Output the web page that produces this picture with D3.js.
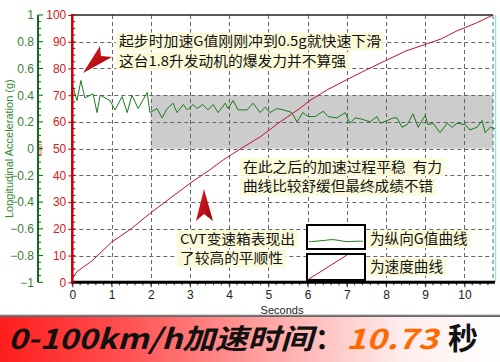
<!DOCTYPE html>
<html><head><meta charset="utf-8">
<script src="https://cdn.jsdelivr.net/npm/d3@7"></script>
<style>
html,body{margin:0;padding:0;background:#fff;}
svg{display:block;}
text{font-family:"Noto Sans CJK SC","Noto Sans",sans-serif;}
.ax{font-family:"Liberation Sans",Arial,sans-serif;}
</style></head>
<body>
<svg id="c" width="500" height="362"></svg>
<script>
// ---- data ----
const speedTime = [0,0.12,0.5,1,1.5,2,2.5,3,3.5,3.85,4.3,4.8,5.3,5.8,6.06,6.5,7,7.5,8,8.5,9,9.4,9.8,10.3,10.73];
const speedValue = [1.5,4,8,15,20,26,31.5,37,42,45.8,50,54.5,60,65,68,72,75.8,79.5,83,86.5,89,91,94,97,100];
const accTime = [0.02,0.12,0.22,0.32,0.53,0.63,0.71,0.96,1.09,1.27,1.40,1.52,1.68,1.91,1.98,2.16,2.29,2.42,2.57,2.67,2.83,2.93,3.08,3.18,3.33,3.46,3.59,3.72,3.90,3.97,4.10,4.23,4.46,4.61,4.79,4.92,5.04,5.22,5.38,5.60,5.73,5.88,6.01,6.19,6.40,6.52,6.75,6.96,7.08,7.21,7.39,7.59,7.77,7.85,8.03,8.18,8.28,8.41,8.54,8.69,8.82,9.00,9.07,9.20,9.38,9.56,9.69,9.81,10.02,10.14,10.32,10.45,10.53,10.66,10.78];
const accValue = [0.46,0.36,0.51,0.38,0.41,0.27,0.40,0.36,0.29,0.39,0.27,0.40,0.30,0.42,0.27,0.30,0.23,0.30,0.34,0.27,0.33,0.29,0.33,0.30,0.33,0.29,0.33,0.27,0.34,0.30,0.36,0.29,0.29,0.34,0.27,0.31,0.27,0.30,0.29,0.27,0.20,0.27,0.24,0.24,0.28,0.24,0.23,0.27,0.19,0.23,0.22,0.20,0.24,0.19,0.21,0.23,0.23,0.16,0.18,0.26,0.16,0.25,0.18,0.19,0.12,0.19,0.16,0.19,0.18,0.14,0.16,0.21,0.12,0.16,0.15];
const xTicks = [0,1,2,3,4,5,6,7,8,9,10];
const speedTicks = [0,10,20,30,40,50,60,70,80,90,100];
const accTicks = [-1,-0.8,-0.6,-0.4,-0.2,0,0.2,0.4,0.6,0.8,1];
const bandRange = {t0:2, v0:50, v1:70};
const legendWave = [0.30,0.33,0.35,0.41,0.35,0.29,0.33,0.32];
const legendRed = [0,1];
const noteTop = ["起步时加速G值刚刚冲到0.5g就快速下滑","这台1.8升发动机的爆发力并不算强"];
const noteMid = ["在此之后的加速过程平稳  有力","曲线比较舒缓但最终成绩不错"];
const noteCvt = ["CVT变速箱表现出","了较高的平顺性"];
const legendLabels = ["为纵向G值曲线","为速度曲线"];
const bannerMain = "0-100km/h加速时间";
const bannerColon = "：";
const bannerTime = "10.73";
const bannerUnit = "秒";

const svg = d3.select("#c");
const x = d3.scaleLinear().domain([0,10.78]).range([72.3,495]);
const yS = d3.scaleLinear().domain([0,100]).range([282.3,15]);
const yA = d3.scaleLinear().domain([-1,1]).range([282.3,15]);
const x0 = x(0), x1 = 493, yTop = 15, yBot = 282.3;

const defs = svg.append("defs");
const bg = defs.append("linearGradient").attr("id","ban").attr("x1",0).attr("x2",1).attr("y1",0).attr("y2",0);
bg.append("stop").attr("offset","0%").attr("stop-color","#ff1e1e");
bg.append("stop").attr("offset","25%").attr("stop-color","#ff5050");
bg.append("stop").attr("offset","55%").attr("stop-color","#ffa8a8");
bg.append("stop").attr("offset","80%").attr("stop-color","#ffecec");
bg.append("stop").attr("offset","100%").attr("stop-color","#ffffff");
const sh = defs.append("linearGradient").attr("id","sh").attr("x1",0).attr("x2",0).attr("y1",0).attr("y2",1);
sh.append("stop").attr("offset","0%").attr("stop-color","#ffffff");
sh.append("stop").attr("offset","50%").attr("stop-color","#555");
sh.append("stop").attr("offset","100%").attr("stop-color","#999");
const ag = defs.append("linearGradient").attr("id","arr").attr("x1",0).attr("x2",1).attr("y1",0).attr("y2",1);
ag.append("stop").attr("offset","0%").attr("stop-color","#e02020");
ag.append("stop").attr("offset","100%").attr("stop-color","#a00010");

// band
svg.append("rect").attr("x",x(bandRange.t0)).attr("y",yS(bandRange.v1))
  .attr("width",x1-x(bandRange.t0)).attr("height",yS(bandRange.v0)-yS(bandRange.v1)).attr("fill","#cccccc");

// grid
const grid = svg.append("g").attr("stroke","#666").attr("stroke-width",1).attr("stroke-dasharray","4,3");
xTicks.filter(d=>d>0).forEach(d=>grid.append("line").attr("x1",Math.round(x(d))+0.5).attr("x2",Math.round(x(d))+0.5).attr("y1",yTop).attr("y2",yBot));
speedTicks.filter(d=>d>0&&d<100).forEach(d=>grid.append("line").attr("x1",x0).attr("x2",x1).attr("y1",Math.round(yS(d))+0.5).attr("y2",Math.round(yS(d))+0.5));
grid.append("line").attr("x1",x1).attr("x2",x1).attr("y1",yTop).attr("y2",yBot);
svg.append("line").attr("x1",x0).attr("x2",x1).attr("y1",yTop).attr("y2",yTop).attr("stroke","#222").attr("stroke-width",1.5);
svg.append("line").attr("x1",495.5).attr("x2",495.5).attr("y1",yTop).attr("y2",yBot).attr("stroke","#8fe3f2").attr("stroke-width",1.5);

// lines
svg.append("path").datum(speedTime.map((t,i)=>[t,speedValue[i]]))
  .attr("d",d3.line().x(d=>x(d[0])).y(d=>yS(d[1])))
  .attr("fill","none").attr("stroke","#c4122e").attr("stroke-width",1);
svg.append("path").datum(accTime.map((t,i)=>[t,accValue[i]]))
  .attr("d",d3.line().x(d=>x(d[0])).y(d=>yA(d[1])))
  .attr("fill","none").attr("stroke","#1a7a1a").attr("stroke-width",1);

// x axis
const xa = svg.append("g").attr("transform",`translate(0,${yBot})`)
  .call(d3.axisBottom(x).tickValues(xTicks).tickFormat(d3.format("d")).tickSize(5).tickPadding(3));
xa.select(".domain").remove();
xa.selectAll("text").attr("class","ax").attr("font-size",12).attr("fill","#222");
xa.selectAll("line").attr("stroke","#222");
d3.range(0,10.8,0.2).forEach(d=>svg.append("line").attr("x1",x(d)).attr("x2",x(d)).attr("y1",yBot).attr("y2",yBot+3).attr("stroke","#333"));
svg.append("line").attr("x1",x0-1).attr("x2",x1+2).attr("y1",yBot).attr("y2",yBot).attr("stroke","#000").attr("stroke-width",3);
svg.append("text").attr("class","ax").attr("x",282).attr("y",313.5).attr("text-anchor","middle").attr("font-size",11).attr("fill","#222").text("Seconds");

// speed axis (red)
const sa = svg.append("g").attr("transform",`translate(${x0},0)`)
  .call(d3.axisLeft(yS).tickValues(speedTicks).tickSize(4).tickPadding(2));
sa.select(".domain").remove();
sa.selectAll("text").attr("class","ax").attr("font-size",12).attr("fill","#d42020");
sa.selectAll("line").attr("stroke","#c00000");
d3.range(0,100.1,2.5).forEach(d=>svg.append("line").attr("x1",x0).attr("x2",x0+3).attr("y1",yS(d)).attr("y2",yS(d)).attr("stroke","#c00000"));
svg.append("line").attr("x1",x0).attr("x2",x0).attr("y1",yTop-1).attr("y2",yBot).attr("stroke","#c80000").attr("stroke-width",2.5);

// acceleration axis (green)
const ax = 38;
const ga = svg.append("g").attr("transform",`translate(${ax},0)`)
  .call(d3.axisLeft(yA).tickValues(accTicks).tickFormat(d=>d3.format("")(Math.round(d*10)/10)).tickSize(0).tickPadding(4));
ga.select(".domain").remove();
ga.selectAll("text").attr("class","ax").attr("font-size",12).attr("fill","#3a823a");
d3.range(-1,1.001,0.05).forEach((d,i)=>svg.append("line").attr("x1",ax).attr("x2",ax+(i%4===0?5:3)).attr("y1",yA(d)).attr("y2",yA(d)).attr("stroke","#106010"));
svg.append("text").attr("class","ax").attr("transform",`translate(42,${yA(0)}) rotate(-90)`).attr("text-anchor","middle").attr("font-size",7).attr("fill","#b03010").text("km/h");
svg.append("line").attr("x1",ax).attr("x2",ax).attr("y1",yTop).attr("y2",yBot).attr("stroke","#107010").attr("stroke-width",2);
svg.append("text").attr("class","ax").attr("transform",`translate(13,${yA(0)}) rotate(-90)`).attr("text-anchor","middle").attr("font-size",11).attr("fill","#2f8a2f").text("Longitudinal Acceleration (g)");

// annotations: one text per line, pale yellow backdrop per line, stretched to the reference widths
function note(lines, xn, ys, fs, widths){
  const g = svg.append("g");
  const bgG = g.append("g");
  lines.forEach((s,i)=>{
    const t = g.append("text").attr("x",xn).attr("y",ys[i]+fs*0.36).attr("font-size",fs)
      .attr("fill","#111").style("white-space","pre").text(s);
    if (widths) t.attr("textLength",widths[i]).attr("lengthAdjust","spacingAndGlyphs");
    const w = widths ? widths[i] : t.node().getComputedTextLength();
    bgG.append("rect").attr("x",xn-3).attr("y",ys[i]-9).attr("width",w+6).attr("height",18)
      .attr("fill","#fbfbd8").attr("opacity",0.95);
  });
}
note(noteTop,119,[41.5,61],13.5,[262,227]);
note(noteMid,243,[167,186.5],13.5,[199,190]);
note(noteCvt,180,[239,258.5],13.5,[115,103]);

svg.append("path").attr("d","M83,73 L100,46 L101,56 L112,57 Z").attr("fill","url(#arr)");
svg.append("path").attr("d","M204,189 L196,221 L204,214 L213,221 Z").attr("fill","url(#arr)");

// legend
const lx = d3.scaleLinear().domain([0,legendWave.length-1]).range([309,363]);
const ly = d3.scaleLinear().domain([0,1]).range([249,225]);
svg.append("rect").attr("x",307).attr("y",225).attr("width",58).attr("height",24).attr("fill","#fff").attr("stroke","#000").attr("stroke-width",2);
svg.append("path").datum(legendWave).attr("d",d3.line().x((d,i)=>lx(i)).y(d=>ly(d)).curve(d3.curveBasis))
  .attr("fill","none").attr("stroke","#1a7a1a").attr("stroke-width",1);
svg.append("rect").attr("x",307).attr("y",254).attr("width",58).attr("height",26).attr("fill","#fff").attr("stroke","#000").attr("stroke-width",2);
const rx = d3.scaleLinear().domain([0,1]).range([309,347]);
const ry = d3.scaleLinear().domain([0,1]).range([279,255]);
svg.append("path").datum(legendRed).attr("d",d3.line().x(d=>rx(d)).y(d=>ry(d)))
  .attr("fill","none").attr("stroke","#c4122e").attr("stroke-width",1);
note([legendLabels[0]],370,[239],14.6);
note([legendLabels[1]],370,[267],14.6);

// banner
svg.append("rect").attr("x",0).attr("y",314).attr("width",500).attr("height",4).attr("fill","url(#sh)");
svg.append("rect").attr("x",0).attr("y",317).attr("width",500).attr("height",45).attr("fill","url(#ban)");
svg.append("text").attr("x",8).attr("y",349).attr("font-size",28).attr("font-weight","bold").attr("font-style","italic")
  .attr("fill","#111").attr("textLength",305).attr("lengthAdjust","spacingAndGlyphs").text(bannerMain);
svg.append("text").attr("x",329).attr("y",349).attr("text-anchor","middle").attr("font-size",28).attr("font-weight","bold")
  .attr("fill","#111").text(bannerColon);
svg.append("text").attr("x",346).attr("y",349).attr("font-size",28).attr("font-weight","bold").attr("font-style","italic")
  .attr("fill","#ff6a00").attr("textLength",92).attr("lengthAdjust","spacingAndGlyphs").text(bannerTime);
svg.append("text").attr("x",448).attr("y",349).attr("font-size",30).attr("font-weight","bold")
  .attr("fill","#111").text(bannerUnit);
</script>
</body></html>
